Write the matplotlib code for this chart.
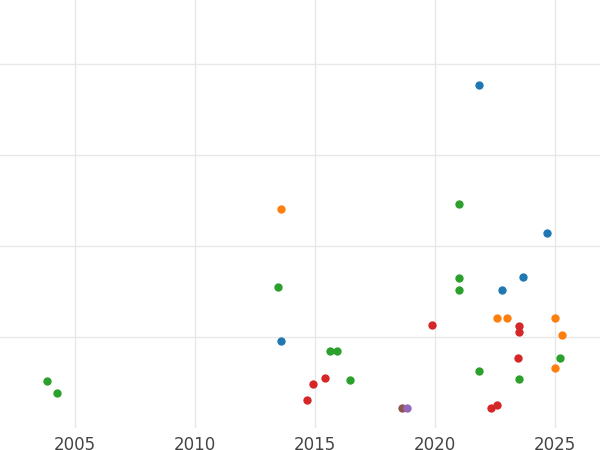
import matplotlib
matplotlib.use('Agg')
import matplotlib.pyplot as plt

# values (y in grid units)
blue_x = [2021.83, 2024.67, 2023.67, 2022.79, 2013.58]
blue_y = [3.77, 2.14, 1.66, 1.51, 0.96]
orange_x = [2013.58, 2022.58, 2023.0, 2025.0, 2025.29, 2025.0]
orange_y = [2.41, 1.21, 1.21, 1.21, 1.02, 0.66]
green_x = [2021.0, 2021.0, 2021.0, 2013.46, 2015.62, 2015.92, 2016.46, 2003.83, 2004.25, 2021.83, 2023.5, 2025.21]
green_y = [2.46, 1.65, 1.51, 1.55, 0.85, 0.84, 0.53, 0.52, 0.38, 0.63, 0.54, 0.77]
red_x = [2019.88, 2023.5, 2023.5, 2023.46, 2015.42, 2014.92, 2014.67, 2022.33, 2022.58]
red_y = [1.13, 1.12, 1.05, 0.77, 0.55, 0.48, 0.31, 0.22, 0.25]
brown_x = [2018.62]
brown_y = [0.22]
purple_x = [2018.83]
purple_y = [0.22]

series = [
    (blue_x, blue_y, '#1f77b4'),
    (orange_x, orange_y, '#ff7f0e'),
    (green_x, green_y, '#2ca02c'),
    (red_x, red_y, '#d62728'),
    (brown_x, brown_y, '#8c564b'),
    (purple_x, purple_y, '#9467bd'),
]

fig = plt.figure(figsize=(6, 4.5), dpi=100)
ax = fig.add_axes([0, 0.049, 1, 0.951])
for xs, ys, c in series:
    ax.scatter(xs, ys, s=36, color=c, zorder=3, linewidths=0)

ax.set_xlim(2001.875, 2026.875)
ax.set_ylim(0, 4.7)
ax.set_xticks([2005, 2010, 2015, 2020, 2025])
ax.set_yticks([1, 2, 3, 4])
ax.set_yticklabels([])
ax.tick_params(length=0, labelsize=12, labelcolor='#444444', pad=6)
ax.grid(True, color='#e8e8e8', linewidth=1)
ax.set_axisbelow(True)
for s in ax.spines.values():
    s.set_visible(False)

plt.savefig('out.png')
